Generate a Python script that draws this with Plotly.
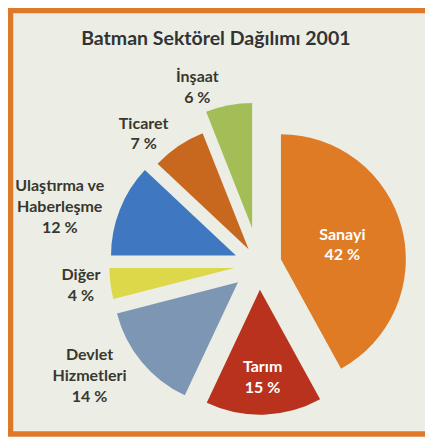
import plotly.graph_objects as go

sectors = ["Sanayi", "Tarım", "Devlet<br>Hizmetleri", "Diğer",
           "Ulaştırma ve<br>Haberleşme", "Ticaret", "İnşaat"]
shares = [42, 15, 14, 4, 12, 7, 6]
colors = ["#df7a25", "#b8321e", "#7d96b3", "#dcd84a", "#3f78c0", "#c8671e", "#a3be57"]
pulls = [0.18, 0.2, 0.22, 0.2, 0.2, 0.15, 0.3]
text_pos = ["inside", "inside", "outside", "outside", "outside", "outside", "outside"]
text_colors = ["#ffffff", "#ffffff", "#38382f", "#38382f", "#38382f", "#38382f", "#38382f"]

W, H = 433, 439

fig = go.Figure(go.Pie(
    labels=sectors,
    values=shares,
    sort=False,
    direction="clockwise",
    rotation=0,
    pull=pulls,
    marker=dict(colors=colors, line=dict(width=0)),
    textposition=text_pos,
    texttemplate="<b>%{label}<br>%{value} %</b>",
    textfont=dict(family="Lato", size=16, color=text_colors),
    insidetextorientation="horizontal",
    automargin=False,
    showlegend=False,
    hoverinfo="label+value",
    domain=dict(x=[0.205, 0.955], y=[0.045, 0.785]),
))

fig.update_layout(
    width=W, height=H,
    margin=dict(l=0, r=0, t=0, b=0, autoexpand=False),
    paper_bgcolor="#ffffff",
    title=dict(text="<b>Batman Sektörel Dağılımı 2001</b>", x=0.48, xanchor="center",
               y=1 - 30 / H, yanchor="middle",
               font=dict(family="Lato", size=19.5, color="#333333")),
    shapes=[dict(type="rect", xref="paper", yref="paper",
                 x0=2.5 / W, x1=422.5 / W, y0=1 - 426 / H, y1=1 - 2.5 / H,
                 line=dict(color="#e0782a", width=5.5), fillcolor="#eceee6", layer="below")],
)

fig.write_html("out.html")
